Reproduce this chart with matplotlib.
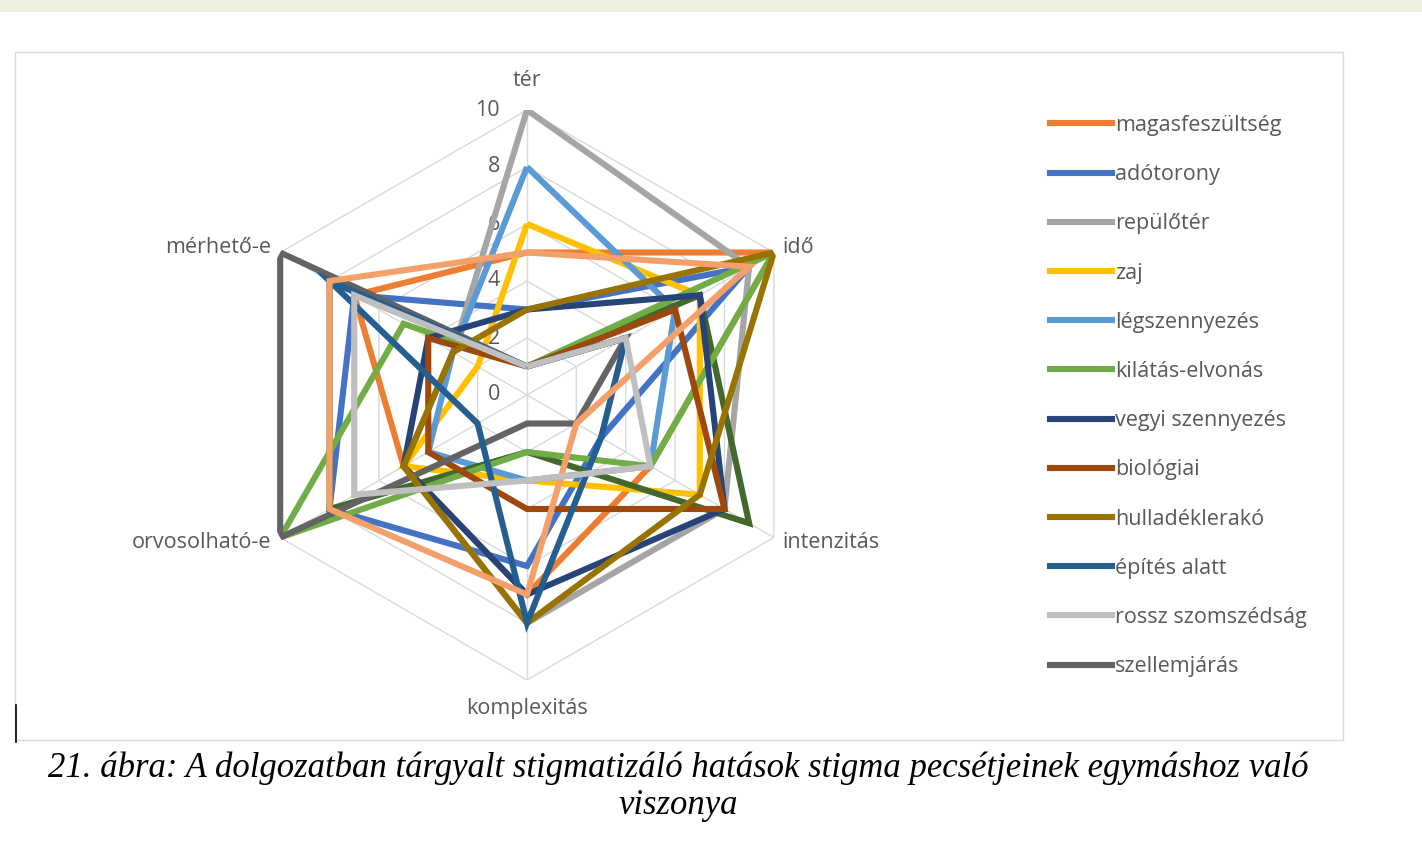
import numpy as np
import matplotlib.pyplot as plt
from matplotlib.lines import Line2D
from matplotlib.patches import Rectangle

# tengelyek (az óramutató járásával megegyezően, felülről)
tengelyek = ['tér', 'idő', 'intenzitás', 'komplexitás', 'orvosolható-e', 'mérhető-e']

# sorozatok: tér, idő, intenzitás, komplexitás, orvosolható-e, mérhető-e
magasfeszultseg = [5, 10, 5, 7, 5, 7]
adotorony = [3, 9, 3, 6, 8, 7]
repuloter = [10, 9, 8, 8, 5, 3]
zaj = [6, 7, 7, 3, 5, 2]
legszennyezes = [8, 6, 5, 3, 4, 3]
kilatas = [1, 10, 5, 2, 10, 5]
vegyi = [3, 7, 8, 7, 5, 4]
biologiai = [1, 6, 8, 4, 4, 4]
hulladek = [3, 10, 7, 8, 5, 3]
epites = [1, 4, 3, 8, 2, 8]
szomszedsag = [1, 4, 5, 3, 7, 7]
szellem = [1, 4, 2, 1, 10, 10]
# a jelmagyarázatban nem szereplő két vonal
extra_zold = [1, 7, 9, 2, 8, 8]
extra_lazac = [5, 9, 2, 7, 8, 8]

nevek = ['magasfeszültség', 'adótorony', 'repülőtér', 'zaj', 'légszennyezés',
         'kilátás-elvonás', 'vegyi szennyezés', 'biológiai', 'hulladéklerakó',
         'építés alatt', 'rossz szomszédság', 'szellemjárás', None, None]
sorozatok = [magasfeszultseg, adotorony, repuloter, zaj, legszennyezes, kilatas,
             vegyi, biologiai, hulladek, epites, szomszedsag, szellem,
             extra_zold, extra_lazac]
szinek = ['#ED7D31', '#4472C4', '#A5A5A5', '#FFC000', '#5B9BD5', '#70AD47',
          '#264478', '#9E480E', '#997300', '#255E91', '#BFBFBF', '#636363',
          '#43682B', '#F4A06A']
# rajzolási sorrend (később rajzolt kerül felülre)
sorrend = [1, 0, 2, 3, 4, 12, 5, 6, 7, 11, 8, 9, 13, 10]

skala = [0, 2, 4, 6, 8, 10]

W, H = 1422, 852
fig = plt.figure(figsize=(W / 100, H / 100), dpi=100)
szurke = '#595959'
betu = ['Open Sans', 'DejaVu Sans']
vastag = 4.4

# felső zöldes sáv és a diagram kerete
fig.patches.append(Rectangle((0, 1 - 12 / H), 1, 12 / H, transform=fig.transFigure,
                             color='#EBF1DE', lw=0))
fig.patches.append(Rectangle((15 / W, 1 - 740 / H), (1343 - 15) / W, (740 - 52) / H,
                             transform=fig.transFigure, fill=False,
                             edgecolor='#D9D9D9', lw=1))
fig.lines.append(Line2D([16 / W, 16 / W], [1 - 742 / H, 1 - 705 / H],
                        transform=fig.transFigure, color='black', lw=1.2))

cx, cy, R = 527, 395, 285
ax = fig.add_axes([(cx - R) / W, 1 - (cy + R) / H, 2 * R / W, 2 * R / H],
                  projection='polar')
ax.set_theta_offset(np.pi / 2)
ax.set_theta_direction(-1)
ax.set_ylim(0, 10)
ax.axis('off')

szogek = np.linspace(0, 2 * np.pi, len(tengelyek), endpoint=False)
zart = np.append(szogek, szogek[0])

# hatszögletű rács
for r in skala[1:]:
    ax.plot(zart, [r] * len(zart), color='#D9D9D9', lw=1, zorder=1)
for a in szogek:
    ax.plot([a, a], [0, 10], color='#D9D9D9', lw=1, zorder=1)

for i in sorrend:
    ertek = sorozatok[i] + sorozatok[i][:1]
    ax.plot(zart, ertek, color=szinek[i], lw=vastag, solid_joinstyle='miter',
            solid_capstyle='butt', zorder=2 + sorrend.index(i))

# skálafeliratok
for v in skala:
    ax.annotate(str(v), xy=(0, v), xytext=(-27, 0), textcoords='offset pixels',
                ha='right', va='center', fontsize=15.5, color=szurke, family=betu)

# tengelyfeliratok
igazit = [('center', 'center', 11.05), ('left', 'center', 10.35),
          ('left', 'center', 10.35), ('center', 'center', 11.0),
          ('right', 'center', 10.35), ('right', 'center', 10.35)]
for a, nev, (ha, va, r) in zip(szogek, tengelyek, igazit):
    ax.text(a, r, nev, ha=ha, va=va, fontsize=15.5, color=szurke, family=betu)

# jelmagyarázat
fogantyuk = [Line2D([], [], color=szinek[i], lw=vastag) for i in range(12)]
fig.legend(fogantyuk, nevek[:12], loc='upper left',
           bbox_to_anchor=(1050 / W, 1 - 115 / H), frameon=False,
           handlelength=2.9, handletextpad=0.12, labelspacing=1.31,
           borderpad=0, borderaxespad=0, labelcolor=szurke,
           prop={'family': betu, 'size': 15.5})

# ábraaláírás
fig.text(678 / W, 1 - 768 / H,
         '21. ábra: A dolgozatban tárgyalt stigmatizáló hatások stigma pecsétjeinek egymáshoz való',
         ha='center', va='center', fontsize=25, style='italic',
         family='Liberation Serif', color='black')
fig.text(678 / W, 1 - 805 / H, 'viszonya', ha='center', va='center', fontsize=25,
         style='italic', family='Liberation Serif', color='black')

fig.savefig('out.png', dpi=100)
